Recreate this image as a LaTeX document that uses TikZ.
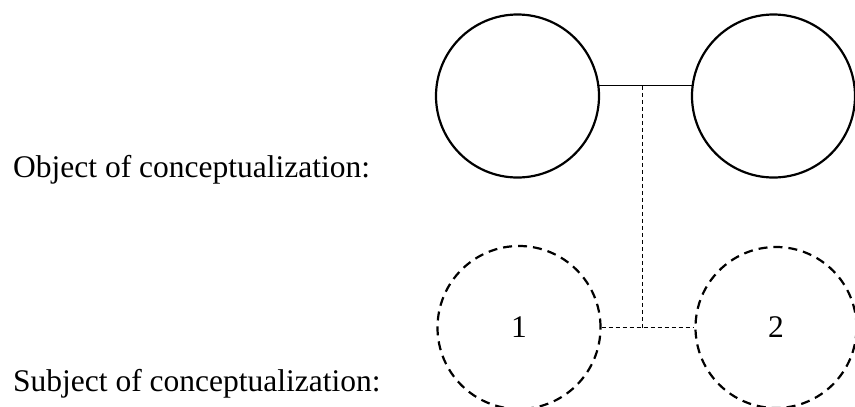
\documentclass[tikz,border=0pt]{standalone}
\usepackage{fontspec}
\setmainfont{Liberation Serif}
\usepackage{tikz}

\begin{document}
\begin{tikzpicture}[x=1pt,y=1pt,
    thing/.style={draw=black, circle, line width=2.2pt, minimum size=163pt},
    view/.style={thing, dash pattern=on 9pt off 6pt},
    link/.style={draw=black, line width=1pt}]
    \tikzstyle{every node}+=[inner sep=0pt, font=\fontsize{31.5}{38}\selectfont]
    \useasboundingbox (0,0) rectangle (855,-407);
    \node [anchor=base west] (objlabel) at (13,-177) {Object of conceptualization:};
    \node [anchor=base west] (subjlabel) at (13,-391) {Subject of conceptualization:};
    \node [thing] (obj1) at (517.5,-96) {};
    \node [thing] (obj2) at (773.5,-96) {};
    \node [view] (subj1) at (519,-327.5) {1};
    \node [view, minimum size=161pt] (subj2) at (776,-327.5) {2};
    \draw [link] (obj1.7) -- coordinate[pos=0.47] (objmid) (obj1.7 -| obj2.173);
    \draw [link, dash pattern=on 4pt off 3pt] (subj1.east) -- coordinate (subjmid) (subj1.east -| subj2.west);
    \draw [link, dash pattern=on 4pt off 3pt] (objmid) -- (objmid |- subjmid);
\end{tikzpicture}
\end{document}
